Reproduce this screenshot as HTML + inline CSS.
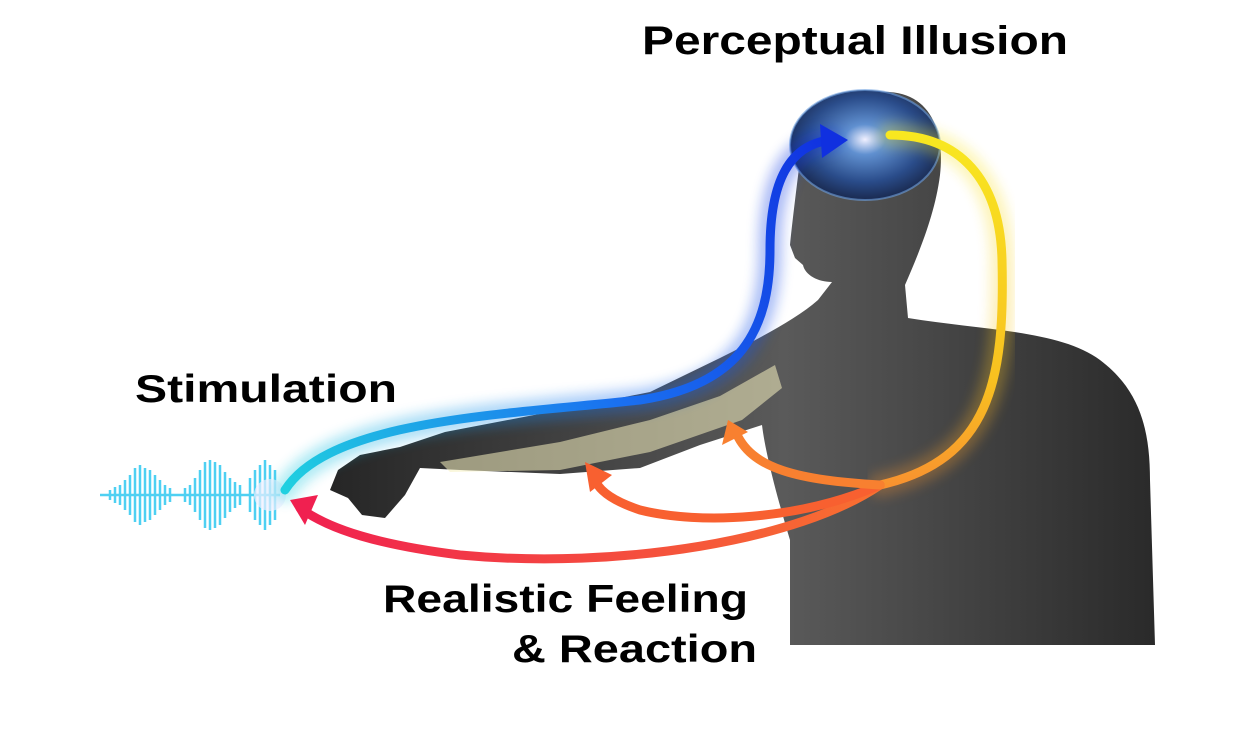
<!DOCTYPE html>
<html><head><meta charset="utf-8"><style>
html,body{margin:0;padding:0;background:#fff;}
svg{display:block}
text{font-family:"Liberation Sans","DejaVu Sans",sans-serif;font-weight:bold;fill:#000}
</style></head><body>
<svg width="1260" height="731" viewBox="0 0 1260 731" xmlns="http://www.w3.org/2000/svg">
<defs>
<linearGradient id="body" x1="0" y1="0" x2="1" y2="0">
<stop offset="0" stop-color="#262626"/><stop offset="0.55" stop-color="#5a5a5a"/><stop offset="1" stop-color="#2a2a2a"/>
</linearGradient>
<linearGradient id="blue" x1="285" y1="490" x2="840" y2="140" gradientUnits="userSpaceOnUse">
<stop offset="0" stop-color="#20d0e0"/><stop offset="0.5" stop-color="#1a70f0"/><stop offset="1" stop-color="#1030e0"/>
</linearGradient>
<linearGradient id="yel" x1="0" y1="130" x2="0" y2="490" gradientUnits="userSpaceOnUse">
<stop offset="0" stop-color="#f8e820"/><stop offset="0.7" stop-color="#f8c020"/><stop offset="1" stop-color="#f89030"/>
</linearGradient>
<linearGradient id="red" x1="880" y1="0" x2="295" y2="0" gradientUnits="userSpaceOnUse">
<stop offset="0" stop-color="#f87030"/><stop offset="1" stop-color="#f02050"/>
</linearGradient>
<radialGradient id="brain" cx="0.5" cy="0.45" r="0.55">
<stop offset="0" stop-color="#f0f0ff"/><stop offset="0.25" stop-color="#6090d0"/><stop offset="0.7" stop-color="#2a4c8a"/><stop offset="1" stop-color="#1a2a50"/>
</radialGradient>
<filter id="glow"><feGaussianBlur stdDeviation="6"/></filter>
</defs>
<!-- body -->
<path d="M790 245 C792 225 795 200 800 160 C810 110 850 90 890 92 C930 95 945 130 940 175 C935 215 918 255 905 285 L908 318 C980 330 1060 330 1100 360 C1140 390 1150 430 1150 480 L1155 645 L790 645 L790 540 C775 490 765 450 762 425 L700 445 L640 468 L560 474 L460 470 L420 468 L405 495 L385 518 L362 515 L348 498 L330 490 L338 470 L360 455 L400 447 L445 432 L560 410 L650 392 L720 358 C760 338 795 320 818 300 L832 282 C818 282 805 275 803 265 L795 258 Z" fill="url(#body)"/>
<path d="M440 462 L560 442 L650 420 L720 396 L775 365 L782 388 L742 420 L650 452 L560 470 L450 472Z" fill="#f5f0c0" opacity="0.55"/>
<!-- brain -->
<ellipse cx="865" cy="145" rx="75" ry="55" fill="url(#brain)"/>
<ellipse cx="865" cy="145" rx="75" ry="55" fill="none" stroke="#6ea0e0" stroke-width="2" opacity="0.6"/>
<!-- waves -->
<g stroke="#30c8f0" stroke-width="2.5" opacity="0.85">
<path d="M100 495h180M110 490v10M115 487v16M120 485v20M125 480v30M130 475v40M135 468v54M140 465v60M145 468v54M150 470v50M155 475v40M160 480v30M165 485v20M170 488v14M185 488v14M190 485v20M195 478v34M200 470v50M205 462v66M210 460v70M215 462v66M220 465v60M225 472v46M230 478v34M235 482v26M240 485v20M250 478v34M255 470v50M260 465v60M265 460v70M270 465v60M275 470v50"/>
</g>
<circle cx="270" cy="495" r="16" fill="#f0f0ff" opacity="0.7"/>
<!-- arrows -->
<g fill="none" stroke-linecap="round">
<path d="M285 490 C330 420 500 415 640 400 C740 385 770 330 770 250 C770 180 790 145 830 140" stroke="url(#blue)" stroke-width="24" opacity="0.35" filter="url(#glow)"/>
<path d="M285 490 C330 420 500 415 640 400 C740 385 770 330 770 250 C770 180 790 145 830 140" stroke="url(#blue)" stroke-width="9"/>
<path d="M890 135 C960 135 1000 180 1002 260 C1005 380 990 460 880 485" stroke="url(#yel)" stroke-width="24" opacity="0.3" filter="url(#glow)"/>
<path d="M890 135 C960 135 1000 180 1002 260 C1005 380 990 460 880 485" stroke="url(#yel)" stroke-width="9"/>
<path d="M880 485 C800 540 620 570 460 555 C380 545 330 530 300 508" stroke="url(#red)" stroke-width="9"/>
<path d="M880 485 C800 520 700 525 640 510 C610 500 600 490 596 482" stroke="#f86030" stroke-width="9"/>
<path d="M880 485 C800 480 750 470 735 430" stroke="#f88030" stroke-width="9"/>
</g>
<polygon points="848,140 820,124 822,158" fill="#1030e0"/>
<polygon points="290,500 318,495 305,525" fill="#f02050"/>
<polygon points="590,492 585,462 612,475" fill="#f86030"/>
<polygon points="728,420 722,445 748,432" fill="#f88030"/>
<text x="642" y="54" font-size="40" textLength="426" lengthAdjust="spacingAndGlyphs">Perceptual Illusion</text>
<text x="135" y="402" font-size="39" textLength="262" lengthAdjust="spacingAndGlyphs">Stimulation</text>
<text x="383" y="612" font-size="39" textLength="365" lengthAdjust="spacingAndGlyphs">Realistic Feeling</text>
<text x="512" y="662" font-size="39" textLength="245" lengthAdjust="spacingAndGlyphs">&amp; Reaction</text>
</svg>
</body></html>
